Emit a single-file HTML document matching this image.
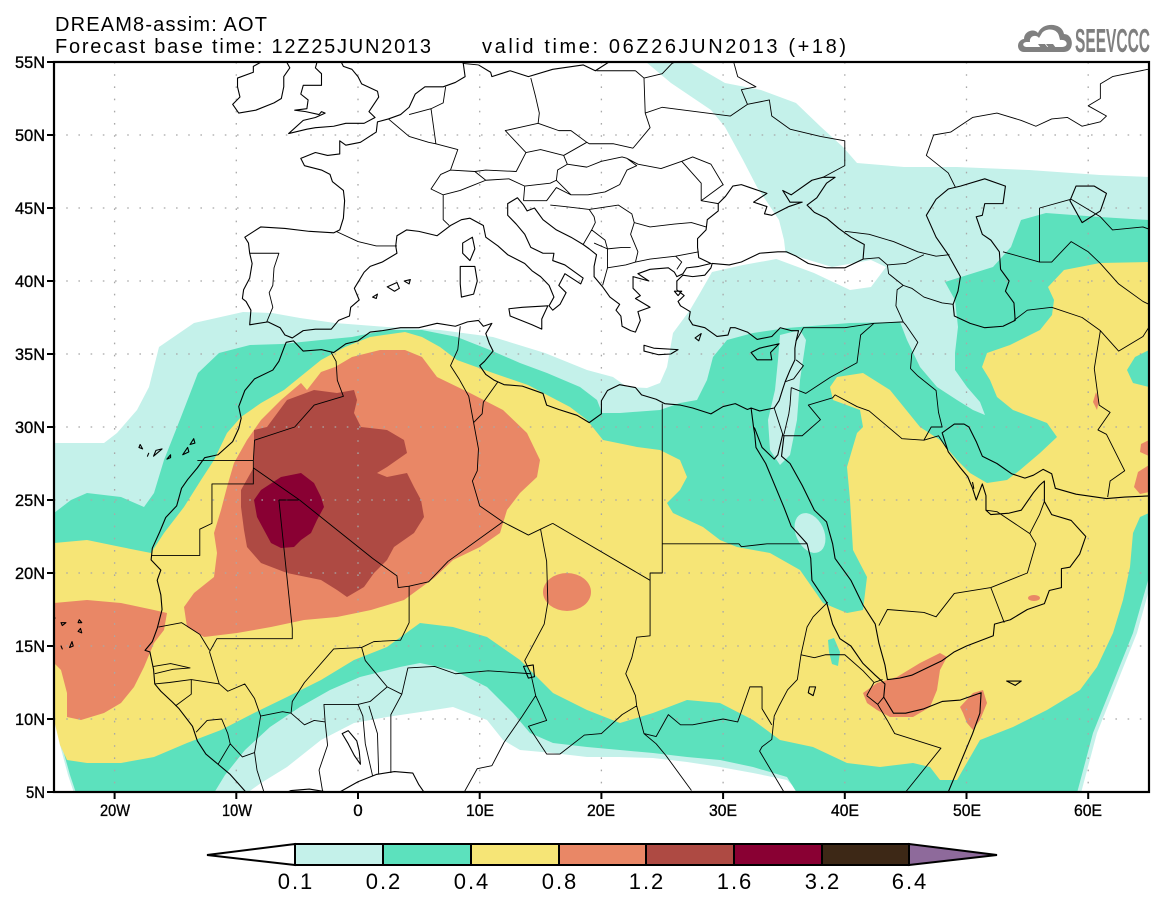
<!DOCTYPE html>
<html><head><meta charset="utf-8"><style>
html,body{margin:0;padding:0;background:#fff;}
svg{display:block;}
text{font-family:"Liberation Sans",sans-serif;fill:#000;}
</style></head><body>
<svg width="1165" height="905" viewBox="0 0 1165 905" xmlns="http://www.w3.org/2000/svg">
<defs><clipPath id="mc"><rect x="54" y="62" width="1095" height="730"/></clipPath></defs>
<rect width="1165" height="905" fill="#fff"/>
<g clip-path="url(#mc)">
<path fill="#c4f1ea" d="M54,443 L61,443 L104,443 L117,433 L137,410 L149,387 L159,347 L194,323 L243,312 L272,313 L300,318 L335,323 L387,327 L440,330 L493,337 L545,353 L587,370 L613,377 L627,387 L647,388 L660,383 L667,367 L673,333 L690,310 L700,293 L712,272 L743,265 L771,260 L786,257 L784,240 L779,220 L757,187 L743,160 L725,127 L711,110 L671,83 L646,62 L689,62 L725,83 L761,90 L796,103 L821,127 L843,147 L857,163 L904,167 L957,167 L1029,170 L1100,175 L1149,177 L1149,590 L1137,633 L1117,683 L1097,733 L1081,793 L800,793 L787,780 L753,773 L720,767 L687,762 L653,758 L620,757 L587,757 L553,753 L520,750 L503,740 L487,720 L453,707 L434,710 L387,717 L354,723 L321,740 L287,767 L261,783 L247,793 L74,793 L68,775 L60,745 L54,715 Z"/>
<path fill="#fff" d="M771,257 L814,273 L850,290 L871,287 L886,267 L871,260 L832,267 L786,253 Z"/>
<path fill="#5ce1bd" d="M54,513 L71,500 L87,493 L121,497 L144,507 L154,493 L164,460 L181,417 L198,373 L219,353 L250,345 L282,344 L321,340 L352,337 L387,330 L422,330 L457,337 L490,350 L520,363 L547,373 L580,387 L597,400 L602,413 L620,413 L660,410 L680,403 L697,400 L707,380 L713,357 L727,340 L753,333 L787,328 L850,323 L900,322 L907,340 L920,367 L937,387 L957,400 L973,410 L985,415 L980,402 L967,387 L955,370 L955,353 L958,327 L955,300 L945,282 L993,267 L1011,247 L1021,220 L1046,213 L1100,217 L1149,220 L1149,577 L1133,633 L1113,683 L1093,733 L1077,793 L797,793 L787,777 L753,767 L720,760 L687,757 L653,753 L620,750 L587,747 L553,743 L530,733 L513,713 L487,687 L453,670 L420,663 L400,667 L360,677 L330,690 L300,707 L270,727 L245,750 L225,775 L214,793 L76,793 L70,775 L63,750 L57,720 L54,715 Z"/>
<path fill="#c4f1ea" d="M780,335 L800,330 L806,340 L800,380 L797,420 L790,455 L780,465 L770,450 L768,420 L775,390 L778,360 Z"/>
<ellipse cx="810" cy="533" rx="14" ry="21" transform="rotate(-25 810 533)" fill="#c4f1ea"/>
<path fill="#f6e576" d="M54,543 L87,540 L121,547 L151,553 L164,533 L184,507 L201,480 L214,460 L227,433 L241,417 L261,403 L284,390 L300,377 L321,360 L345,347 L370,337 L405,332 L422,337 L440,347 L457,360 L493,373 L528,385 L570,407 L587,420 L603,440 L637,447 L660,450 L680,460 L687,477 L680,490 L667,503 L673,513 L703,527 L720,540 L737,547 L770,553 L800,570 L823,603 L847,613 L863,610 L867,577 L853,550 L850,500 L847,467 L857,433 L863,427 L860,410 L833,400 L830,387 L837,377 L863,373 L890,390 L920,427 L940,440 L957,460 L970,473 L987,483 L1007,480 L1020,470 L1040,453 L1057,437 L1047,423 L1013,410 L997,397 L990,380 L982,367 L987,353 L1010,345 L1040,330 L1052,315 L1054,300 L1048,287 L1064,270 L1100,263 L1149,262 L1149,513 L1140,517 L1133,533 L1130,567 L1123,600 L1113,633 L1097,667 L1080,690 L1047,710 L1013,727 L980,740 L957,780 L940,780 L930,767 L913,763 L880,767 L847,763 L813,747 L780,740 L753,720 L720,703 L687,700 L653,713 L620,723 L587,710 L553,693 L537,677 L520,660 L487,637 L453,627 L420,623 L387,647 L354,660 L321,680 L287,697 L254,713 L221,730 L187,743 L154,757 L121,763 L87,763 L67,760 L60,745 L54,720 Z"/>
<path fill="#5ce1bd" d="M1149,350 L1135,357 L1127,370 L1133,383 L1149,387 Z"/>
<path fill="#5ce1bd" d="M828,640 L834,638 L840,652 L838,666 L832,664 L829,652 Z"/>
<path fill="#e98766" d="M307,390 L321,372 L335,367 L352,357 L380,350 L405,350 L422,357 L437,377 L470,393 L503,410 L527,433 L540,460 L537,477 L520,493 L507,510 L500,533 L480,547 L453,560 L434,578 L404,600 L371,610 L337,617 L304,620 L271,627 L237,633 L204,637 L187,627 L184,607 L194,593 L214,577 L217,553 L214,533 L221,510 L227,487 L234,463 L247,440 L261,420 L281,400 L301,383 Z"/>
<ellipse cx="567" cy="592" rx="24" ry="19" fill="#e98766"/>
<path fill="#e98766" d="M54,603 L87,600 L121,603 L154,610 L167,613 L164,630 L154,643 L144,667 L134,687 L121,703 L104,713 L81,720 L67,717 L67,693 L61,670 L54,663 Z"/>
<path fill="#e98766" d="M863,693 L877,683 L897,677 L920,663 L940,653 L947,657 L940,670 L937,690 L930,707 L913,717 L890,717 L877,710 L867,703 Z"/>
<path fill="#e98766" d="M960,707 L973,693 L983,690 L987,703 L980,720 L973,730 L967,723 L963,713 Z"/>
<ellipse cx="1034" cy="598" rx="6" ry="3" fill="#e98766"/>
<path fill="#e98766" d="M1149,440 L1141,444 L1140,452 L1149,456 Z M1149,465 L1138,472 L1134,487 L1140,494 L1149,492 Z M1096,392 L1099,400 L1097,410 L1093,402 Z"/>
<path fill="#ae4a43" d="M254,430 L267,427 L287,400 L314,390 L337,393 L354,390 L357,400 L354,413 L361,427 L387,430 L404,440 L407,453 L387,467 L377,473 L387,477 L407,473 L414,487 L421,500 L424,517 L414,533 L394,547 L387,560 L374,573 L364,587 L347,597 L337,590 L321,580 L287,573 L261,563 L247,547 L244,530 L241,507 L241,490 L254,467 L254,447 Z"/>
<path fill="#890033" d="M254,500 L261,490 L281,477 L301,473 L314,483 L321,497 L324,507 L317,520 L311,533 L301,540 L294,547 L281,548 L271,543 L264,530 L257,517 Z"/>
<g stroke="#a8a8a8" stroke-width="1.3" stroke-dasharray="1.6 10.6" fill="none">
<path d="M114.6,62V792M236.3,62V792M358,62V792M479.7,62V792M601.4,62V792M723.1,62V792M844.8,62V792M966.5,62V792M1088.2,62V792"/>
<path d="M54,719H1149M54,646H1149M54,573H1149M54,500H1149M54,427H1149M54,354H1149M54,281H1149M54,208H1149M54,135H1149"/>
</g>
<g transform="matrix(12.17 0 0 -14.6 358 865)" fill="none" stroke="#000" stroke-linejoin="round">
<path vector-effect="non-scaling-stroke" stroke-width="1.1" d="M9.8 3.5 L9 4.5 L8 4.5 L6 4.3 L5 5.5 L4.5 6.3 L3 6.4 L1.5 6.2 L0 5.7 L-1.5 5 L-2.5 5 L-4 5.2 L-5.5 5.1 L-7.5 4.4 L-9 4.8 L-10.5 6.2 L-11.5 6.9 L-12.5 7.6 L-13.2 8.5 L-13.6 9.5 L-14.7 10.7 L-15.3 11.2 L-16.2 11.9 L-16.7 12.4 L-16.8 13.4 L-17.1 14.6 L-17.5 14.7 L-16.9 15.3 L-16.5 16.2 L-16.1 17.5 L-16.2 18.5 L-16.5 19.5 L-16.2 20.2 L-17 20.9 L-16.9 21.7 L-16.3 22.8 L-15.8 23.8 L-14.9 24.6 L-14.5 25.8 L-14 26.4 L-13.2 27.2 L-12.6 27.9 L-11.5 28.1 L-10.3 29 L-9.8 29.9 L-9.6 30.6 L-9.8 31.4 L-9.3 32.5 L-8.5 33.3 L-7 33.9 L-6.5 34.5 L-6 35.6 L-5.9 35.8 L-5.3 35.9 L-4.5 35.2 L-3 35.3 L-2 35.1 L-1 35.7 L0 35.9 L1 36.5 L2 36.6 L3.5 36.8 L5 36.8 L6.5 37.1 L8 36.9 L9 37.2 L9.9 37.3 L10.3 36.9 L11 37.1 L10.5 36.4 L10.8 35.7 L11.1 35.2 L10.4 34.5 L10 34.2 L10.5 33.6 L11.2 33.2 L12 32.9 L13.5 32.8 L15.2 32.3 L15.5 31.5 L16.5 31.2 L18 30.8 L19 30.3 L20 30.9 L20 31.8 L20.5 32.5 L21.5 32.9 L22.8 32.7 L23.3 32.2 L24.5 31.9 L25.2 31.6 L26.5 31.5 L27.5 31.3 L29 30.9 L30 31.4 L31 31.6 L32 31.2 L32.3 31.3 L33 31.1 L34.2 31.3 L34.6 31.8 L34.9 32.6 L35.1 33.1 L35.5 33.9 L35.9 34.6 L35.9 35.4 L36 35.9 L36.2 36.6 L35.6 36.6 L34.7 36.8 L34 36.2 L32.8 36 L32 36.5 L31 36.8 L30.6 36.8 L30.4 36.3 L29.5 36.2 L28.5 36.8 L27.5 37 L27.2 37.4 L27.3 37.9 L26.5 38.3 L26.3 38.6 L26.8 39 L26.2 39.4 L26.2 40 L26.7 40.4 L27.5 40.3 L28.5 40.4 L29 40.9 L29.1 41.2 L30.5 41.1 L31.5 41.3 L33 41.9 L34.5 42 L35.2 42 L36 41.7 L37 41.2 L38.5 40.9 L40 40.9 L41.5 41.5 L41.6 42.5 L40.5 43 L39.5 43.6 L38.5 44.3 L37.5 44.7 L36.9 45.2 L37.7 45.7 L38.5 46.7 L39.2 47.1 L38.2 47.1 L37.3 46.9 L35.6 45.9 L34.9 46.2 L35.5 45.4 L36.5 45.4 L35.4 45.1 L34 44.5 L33.4 44.6 L33.6 45.1 L32.5 45.4 L33.6 46 L32.2 46.4 L31.5 46.6 L30.8 46.5 L30.2 45.8 L29.6 45.3 L29.6 44.8 L28.7 44.2 L28.6 43.5 L27.9 42.9 L27.9 42.3 L28 41.6 L29 41.2 L28 41 L27 40.9 L26.7 40.5 L26.2 40.3 L26 40.6 L25.5 40.9 L24 40.8 L23 40.5 L23.9 40 L22.6 40.3 L22.6 39.5 L23.2 39 L22.8 38.8 L24 38.2 L23 37.9 L23.2 37.3 L22.8 36.5 L22.4 36.6 L21.7 36.9 L21.6 37.6 L21.2 38 L21.5 38.4 L20.7 38.9 L20.1 39.6 L19.4 40.3 L19.4 41 L19.6 41.8 L19 42.2 L18.5 42.5 L17.5 43 L16.3 43.5 L15.2 44.2 L14.5 45 L13.9 44.8 L13.6 45.2 L13.1 45.7 L12.3 45.3 L12.3 44.5 L13 43.9 L13.7 43.2 L14.2 42.3 L15.2 41.9 L16.1 41.9 L16 41.4 L17 41.1 L18.5 40.2 L18.3 39.8 L17 40.5 L16.5 39.7 L17.1 39.2 L16.6 38.4 L16 38 L15.7 38.3 L16.1 38.9 L15.7 39.7 L15 40.3 L14.3 40.7 L13.7 41.2 L12.3 41.8 L11.5 42.4 L10.5 43 L10.3 43.8 L9.2 44.3 L8.5 44.2 L7.6 43.8 L6.5 43.1 L5 43.4 L4 43.5 L3.2 43.1 L3.1 42.4 L3.2 41.9 L2 41.3 L1 41 L0.5 40.6 L-0.3 39.5 L0.1 38.7 L-0.6 38.2 L-0.7 37.6 L-1.6 37.3 L-2.2 36.7 L-3.5 36.7 L-4.5 36.6 L-5.4 36.1 L-6 36.3 L-6.4 36.8 L-7.4 37.2 L-8.9 37 L-8.8 38 L-9.2 38.6 L-9.5 38.8 L-9.4 39.4 L-8.9 40.2 L-8.7 41.2 L-8.9 41.9 L-9 42.6 L-9.3 43 L-8 43.7 L-6 43.6 L-4 43.4 L-2 43.3 L-1.5 43.5 L-1.2 44.3 L-1.1 45.5 L-1.2 46.2 L-2.1 46.8 L-2.3 47.3 L-3 47.6 L-4.4 47.9 L-4.7 48.4 L-3.5 48.8 L-2.5 48.6 L-1.5 48.7 L-1.5 49.6 L-1 49.3 L0.2 49.5 L1.5 50.2 L1.6 50.9 L2.5 51.1 L3.5 51.4 L4.2 51.9 L4.7 52.8 L5.5 53.3 L7 53.3 L8 53.6 L8.8 54 L8.6 55.2
M9.9 54.8 L10.9 54.3 L11 54 L12.5 54.4 L14 54 L16 54.5 L18.5 54.8 L19.5 54.4 L21 55.2
M32.3 31.3 L32.5 30 L32.6 29.5 L32.7 28.6 L33.5 27.5 L34 26.5 L35 24.5 L35.6 23.2 L36.9 22 L37.2 21 L37.3 19.5 L38.5 18 L39 16.5 L39.6 15.5 L40.5 15 L41.5 13.8 L42.5 13 L43.3 12.4 L43.2 11.5 L44 10.4 L45 10.4 L46.5 10.7 L48 11.2 L49.5 11.3 L51.2 11.8 L51.1 10.4 L50.5 9 L49.5 7 L48.5 5 L47.5 3.5
M32.5 30 L32.6 29.9 L33.2 28.6 L34.2 27.8 L34.5 28.1 L34.9 29.5 L35 29.4 L34.8 28 L35.5 27.5 L36.5 26 L37.5 24.3 L38.5 23.5 L39 22 L39.2 21 L40.5 19.5 L41.5 17.8 L42.5 16.5 L42.8 15.2 L43.3 13.7 L43.5 12.7 L44.5 12.8 L45.5 13 L48 14 L49 14.6 L50 15 L52.2 15.7 L52.3 16.5 L53.6 16.8 L55 17.5 L56.4 17.9 L56.8 18.8 L57.8 19 L57.8 20.3 L58.5 20.4 L59.3 21.3 L59.8 22.5 L58.6 23.6 L57 24 L56.4 24.9 L56.4 26.3 L56 26 L55.5 25.5 L54.5 24.3 L53.5 24.1 L52 24 L51.6 24.3 L51.6 25.3 L51.3 26.1 L50.8 25 L50.5 25.8 L50.1 26.6 L49.5 27.2 L48.5 28.3 L48 29.6 L48.5 29.9 L49 30.2 L49.8 30.2 L50.2 30 L50.8 29 L51.3 28 L52.5 27.5 L53.7 26.8 L54.8 26.5 L55.5 26.7 L56.3 27.1 L57 26.8 L57.3 25.8 L59 25.4 L61.5 25.1 L63 25.2 L65.5 25.3
M46.7 44.5 L47.5 43 L48.5 41.8 L49.5 40.3 L49.3 39.3 L48.9 38.4 L49 37.6 L50.3 37.1 L51.5 36.8 L53 36.9 L54 37.3 L53.9 38.5 L53.2 39.3 L53.5 40 L52.8 40.8 L52.7 42 L52 42.8 L51.3 43.2 L50.8 44.4 L51.3 44.5 L51.5 45.3 L53 45.3 L53.2 46.5 L51.5 47 L49.5 46.5 L48.5 46.3 L47.5 45.6 Z
M58.5 45.5 L59 46.5 L60.5 46.5 L61.5 46 L61 44.8 L59.5 44 Z
M-3.3 55.2 L-3.5 54.6 L-3 54.2 L-3 53.8 L-3 53.4 L-4.5 53.4 L-4.7 52.8 L-4.1 52.4 L-4.2 51.8 L-5.2 51.7 L-4.3 51.6 L-3.2 51.4 L-3 51.6 L-2.7 51.5 L-3.5 51.2 L-4.5 51 L-5.7 50.1 L-4.2 50.4 L-3.5 50.5 L-2 50.6 L-1 50.8 L0.5 50.8 L1.4 51.2 L0.9 51.6 L1.7 52.6 L1.6 53 L0.3 53.5 L0 54 L-0.5 54.5 L-1.2 54.7 L-1.5 55.2
M-7.3 55.3 L-6 55.2 L-5.6 54.6 L-6.1 54 L-6.1 53.3 L-6.3 52.5 L-6.9 52.2 L-8.4 51.7 L-9.8 51.5 L-10.3 52.1 L-9.7 52.6 L-9.9 53.3 L-9.9 53.9 L-8.6 54.3 L-8.6 54.7 Z
M8.4 41 L9.6 41 L9.8 40 L9.5 39.1 L8.5 38.9 L8.4 39.8 Z M9.4 43 L9.6 42.2 L9.2 41.4 L8.6 41.9 L8.6 42.6 Z M12.4 38.1 L13.5 38.2 L15.6 38.3 L15.1 37.4 L15.1 36.7 L14.3 37 L12.5 37.6 Z M23.5 35.6 L24.3 35.4 L26.3 35.3 L25.7 35 L24.7 34.95 L23.5 35.2 Z M32.3 35.1 L33 35.4 L34.6 35.7 L33.9 35.1 L34 34.6 L32.8 34.6 Z M2.4 39.6 L3.2 39.9 L3.4 39.5 L3 39.3 Z M3.8 40 L4.3 40.1 L4.2 39.8 Z M1.2 38.9 L1.6 39.1 L1.5 38.8 Z M27.7 36.1 L28.2 36.4 L28 35.9 Z M26 39.3 L26.6 39.3 L26.3 39 Z
M-13.5 29.2 L-13.8 28.8 L-13.4 28.9 Z M-14 28.6 L-14.4 28.1 L-13.9 28.3 Z M-15.4 28.1 L-15.7 27.8 L-15.4 27.9 Z M-16.6 28.4 L-16.1 28.5 L-16.8 28 Z M-17.9 28.8 L-17.7 28.5 L-18 28.6 Z M-17.2 28.2 L-17.3 28 Z
M-24.4 16.6 L-24 16.6 L-24.3 16.4 Z M-22.9 16.8 L-22.7 16.6 L-23 16.6 Z M-22.8 16.2 L-22.7 15.9 L-23 16 Z M-23.5 15.3 L-23.7 14.9 L-23.4 15 Z M-24.4 15 L-24.3 14.8 Z M-25 17.1 L-25.3 16.9 L-24.9 16.9 Z
M53.3 12.6 L54.5 12.6 L54 12.3 Z M50.5 26.2 L50.6 25.8 Z
M-0.1 8.5 L0.1 7.8 L0.2 6.9 L-0.3 7.5 L-0.8 8.3 L-1.3 9 L-0.8 9.2 Z M37.1 12.2 L37.6 12.2 L37.4 11.6 L37 11.8 Z M13.6 13.6 L14.4 13.7 L14.5 12.9 L14 12.8 Z"/>
<path vector-effect="non-scaling-stroke" stroke-width="0.9" d="M-2.2 35.1 L-1.8 34.5 L-1.7 33.2 L-1.2 32.1 L-3.6 31.5 L-5.2 30 L-8.5 29.1 L-8.6 27.7
M-13.2 27.7 L-8.6 27.7 L-8.6 26.1 L-12 26.1 L-12 23.4 L-13 23 L-13 21.2 L-17 21.2
M-8.6 27.2 L-4.8 25 L1.2 21 L3.2 19.8 L3.3 19 L4.2 19.1 L5.8 19.4 L7.4 20.8 L11.9 23.5
M-6.5 25 L-4.8 25 M-6.5 25 L-5.4 16.2 L-5.4 15.5 L-9.1 15.5 L-11.6 15.5 L-12.2 14.6 M-16.4 16.3 L-14.5 16.6 L-13 15.8 L-12.2 14.7
M8.4 36.9 L8.2 35.3 L7.6 34.2 L8.3 33.3 L9.1 32.1 L9.5 30.3 L10.2 30.9 L10.3 31.7 L11.5 33.1
M9.5 30.3 L9.9 28.5 L9.8 27 L9.4 26.3 L10 24.6 L11.9 23.5 L14 22.6 L15 23 L16 23.4
M16 23.4 L24 19.5 L24 20 L25 20 L25 22 L25 31.6 M25 22 L31.3 22 L31.5 21.8 L33.6 22 L36.9 22
M15 23 L15.5 20.8 L15.6 18 L15.3 16.5 L13.7 14 L14.2 13.1
M24 19.5 L24 15.7 L22.9 15.6 L22.5 14.2 L22 13.1 L22.8 11.6 L22.9 10.9 L23.5 9
M14.2 13.1 L14.6 11.6 L15.1 10.7 L15.5 9.9 L14 9.5 L15.5 7.6 L16.6 7.6 L18.6 8.9 L20 9 L21.7 10.3 L22.9 10.9
M14.2 13.1 L12.5 13.2 L10.7 13.3 L8 13.1 L6.3 13.6 L4.1 13.5 L3.6 11.7 L2.7 10.3 L2.7 6.3 M14.6 11.6 L13.5 10.2 L12 8.4 L11 6.8 L9.8 6.6 L8.6 4.8
M4.2 19.1 L4.2 16.6 L3.5 15.4 L1.3 15.3 L0.3 14.9 L0.6 14 L2 12.6 L2.4 12.2 L3.6 11.7
M0.3 14.9 L-2 14.8 L-4.4 12.5 L-5.4 11.2 L-5.5 10.4
M2.4 12.2 L1 11.2 L0 11 L-2.8 11 L-2.7 9.8 L-3.6 9.9 L-4.4 9.6 L-5.5 10.4 L-6.2 10.5 L-8 10.2
M-12.2 14.6 L-11.4 12.4 L-10.7 11.9 L-9.3 12.4 L-8.5 11.4 L-8 10.2
M-16.7 12.4 L-15.5 12.5 L-13.7 12.7 L-11.4 12.4 M-16.8 13.6 L-15.4 13.8 L-13.8 13.5 L-15.2 13.4 L-16.7 13.1 M-13.7 12.7 L-13.7 11.7 L-15 10.9 M-13.3 9.1 L-12.4 9.9 L-11.2 10 L-10.7 9 L-10.5 8.3 L-11.5 6.9 M-10.5 8.3 L-9.5 7.4 L-8.5 7.7 L-8 10.2 M-8.5 7.7 L-8.3 6.5 L-7.5 4.4
M-2.7 9.8 L-2.5 8.2 L-3.2 6.5 L-2.9 5 M0 11 L0.4 10.2 L0.6 8.3 L1.2 6.1 M0.9 10.9 L1.6 9 L1.7 6.2
M38.6 18 L37.4 17 L36.9 16.3 L36.4 14.4 L36.1 12.7 L35.3 12 L34.6 10.9 L34.2 10.2 L34 8.6 L33.2 8.1 L33 7.8 L35 5 M36.4 14.4 L37.5 14.2 L38.4 14.4 L40 14.4 L41.5 13.3 L42.4 12.5 L43.1 12.7 M41.8 11.6 L42.4 12.5 M41.8 11.6 L42.7 11 L43.2 11.5 M42.7 11 L43.5 9.9 L44.1 9 L47.9 8 L45 5
M23.5 9 L24.5 8.8 L25.5 10.3 L26.5 9.6 L27.5 9.6 L30 10 L31.2 9.8 L32.2 12.2 L33.2 12.2 L33.2 10.7 L34 9.6 M23.5 9 L24.5 8.3 L25.3 7.5 L27.4 5.1
M34.2 31.3 L34.9 29.5 M35 29.5 L35.4 30.9 L35.5 31.5 L35.6 32.7 M35.1 33.1 L35.8 33.3 L36.6 34.2 L36 34.6 M35.6 32.7 L36.8 32.3 L38.8 33.4 L41 34.4 L41.3 36.3 L42.4 37.1 M36 35.9 L36.6 36.8 L38 36.8 L40 36.8 L42.4 37.1 L44.8 37.2 L44.2 38.3 L44.3 39.4 L44.8 39.7
M35 29.4 L36.5 29.4 L38 30.5 L37 31.5 L39 32 L39.2 32.2 L41 31.4 L42 31.1 L44.7 29.2 L46.5 29.1 L47.7 29.4 L48.4 28.5 M46.5 29.1 L47.1 30 L48 30 L47.7 31 L47.5 32.5 L46 33.5 L45.4 34 L45.5 35 L46 35.8 L45 37 L44.8 37.2
M42.8 16.4 L43.5 17.5 L46.5 17.3 L47.5 17 L49 18.6 L52 19 L55 20 L55.7 22 L55.2 22.7 L52.5 24.2 L51.6 24.3 M52 19 L53.1 16.6 M55.2 22.7 L56 24 L56.4 24.9
M41.5 41.5 L42.8 41.6 L43.5 41.1 L43.6 40.5 L44.8 39.7 M43.5 41.1 L45 41.2 L46.5 41.8 M40 43.4 L42 43.2 L44 42.7 L46 42 L47.5 41.7 L48.6 41.8 M44.8 39.7 L45.5 39.5 L46.5 38.9 L48 38.5 L48.9 38.4
M53.9 37.3 L55 38 L57 38.2 L59.5 37.5 L61 36.6 L60.5 34 L60.9 31.5 L61.8 31 L60.8 29.8 L61.5 29.5 L63 27 L61.8 26.3 L61.6 25.2 M61 36.6 L62.5 35.2 L64.5 36.2 L65.5 37.5
M53 42 L56 41.3 L57 41.3 L58.6 42.7 L60 42 L61 41.2 L62.5 39.8 L64.5 38.6 L65.5 38.2 M56 45 L56 41.3 M56 45 L58.6 45.6 L61 44.4 L62 43.5 L64.5 43.7 L65.5 43.4
M49.1 46.4 L48.5 47.4 L46.7 48.6 L47.3 50 L48.7 50.2 L50.5 51.2 L52.5 51.5 L54.5 51 L55.7 50.6 L57 51.1 L58.3 51.2 L59.5 50.6 L61 50.9 L61.5 51.3 L60 52 L61 52.5 L61 53.5 L62 54 L65.5 54.6
M38.2 47.1 L40 47.9 L40 49.6 L38 49.9 L35.5 50.4 L34 51.3 L33.8 52.4 L32 52.1 L30.6 51.3 L25 51.9 L23.6 51.5 M32 52.1 L31.5 53.1 L32.7 53.3 L31.2 54 L30.8 55.2 M23.6 51.5 L23.5 53.9 L25 54.2 L25.8 54.9 L26.6 55.2 M22.8 54.4 L19.6 54.4 M22.8 54.4 L23.5 53.9
M22.1 48.4 L23 48 L24.9 47.7 L26.6 48.2 L27.5 48.5 L29 48 L30 46.6 L28.2 45.5 L29.6 45.3 M26.6 48.2 L28.2 46.7 L28.2 45.5
M22.6 49.1 L21 49.4 L19 49.4 L18.8 49.5 L17.5 50.3 L16.5 50.3 L14.8 50.8 L14.9 51.5 L14.6 52.6 L14.2 53.9 M22.6 49.1 L24 50.5 L23.6 51.5
M14.8 50.8 L12.1 50.3 L13.8 48.8 L13 47.5 L10.5 47.6 L9.6 47.5 L7.6 47.6 M13.8 48.8 L15 49 L16.9 48.6 L18.8 49.5 M16.9 48.6 L17.2 48 L16.4 47.6 L16.3 46.9 L15.8 46.7 L13.7 46.5 L12.4 47 L10.5 46.9 L9.6 47.5 M17.2 48 L18.8 47.8 L20 48.2 L21.7 48.5 L22.1 48.4
M16.3 46.9 L17.5 45.9 L18.9 45.9 L20.3 46.1 L21.5 46.6 L22.1 47.6 L22.9 47.9 L22.1 48.4
M7.6 47.6 L6.8 47.3 L6 46.3 L7 45.9 L8.4 46.2 L9.3 46.5 L10.5 46.9 M7 45.9 L7 44.2 L7.5 43.8
M7.6 47.6 L8.2 49 L6.4 49.4 L5.8 49.5 L4.2 49.9 L2.5 51.1 M6.4 49.4 L6.2 50.6 L6 51.8 L7 52.2 L7.2 53.3 M4.2 51.4 L6 51.8 M8.6 54.9 L9.9 54.8
M-1.8 43.4 L0 42.7 L1.5 42.4 L3.2 42.4 M-8.9 41.9 L-6.5 41.9 L-6.9 40.9 L-7 39.7 L-7.3 39.2 L-7 38.2 L-7.5 37.2
M13.6 45.5 L13.7 46.5 M13.6 45.5 L15.5 45.5 L16.3 46.4 L17.5 45.9 M15.8 45.2 L17 45.1 L19 44.9 L19.4 44.4 L19.5 44 L19.2 43.5 L18.5 42.5 M19 44.9 L21.4 45.2 L22.5 44.6 L22.7 44 L24 43.7 L26 43.9 L27.4 44 L28.6 43.7 M22.7 44 L22.4 43.2 L23 42 L22.8 41.3 L24 41.5 L26.1 41.7 L26.6 41.3 L26.2 40.8 M20.5 40.9 L22 41.1 L22.8 41.3 M19.4 42.6 L20.5 42.2 L20.5 40.9 L20.1 39.7 M19.2 43.5 L20.3 42.8 L20.5 42.2 L21.7 42.3 L22.4 42.3 M26.1 41.7 L28 42"/>
</g>
</g>
<rect x="54" y="62" width="1095" height="730" fill="none" stroke="#000" stroke-width="2.2"/>
<path stroke="#000" stroke-width="2" d="M47,62H54M47,135H54M47,208H54M47,281H54M47,354H54M47,427H54M47,500H54M47,573H54M47,646H54M47,719H54M47,792H54M114.6,792V799M236.3,792V799M358,792V799M479.7,792V799M601.4,792V799M723.1,792V799M844.8,792V799M966.5,792V799M1088.2,792V799"/>
<g font-size="17" text-anchor="end" style="stroke:#000;stroke-width:0.35">
<text x="45" y="68" textLength="30" lengthAdjust="spacingAndGlyphs">55N</text>
<text x="45" y="141" textLength="30" lengthAdjust="spacingAndGlyphs">50N</text>
<text x="45" y="214" textLength="30" lengthAdjust="spacingAndGlyphs">45N</text>
<text x="45" y="287" textLength="30" lengthAdjust="spacingAndGlyphs">40N</text>
<text x="45" y="360" textLength="30" lengthAdjust="spacingAndGlyphs">35N</text>
<text x="45" y="433" textLength="30" lengthAdjust="spacingAndGlyphs">30N</text>
<text x="45" y="506" textLength="30" lengthAdjust="spacingAndGlyphs">25N</text>
<text x="45" y="579" textLength="30" lengthAdjust="spacingAndGlyphs">20N</text>
<text x="45" y="652" textLength="30" lengthAdjust="spacingAndGlyphs">15N</text>
<text x="45" y="725" textLength="30" lengthAdjust="spacingAndGlyphs">10N</text>
<text x="45" y="798" textLength="19" lengthAdjust="spacingAndGlyphs">5N</text>
</g>
<g font-size="17" text-anchor="middle" style="stroke:#000;stroke-width:0.35">
<text x="115" y="816" textLength="30" lengthAdjust="spacingAndGlyphs">20W</text>
<text x="237" y="816" textLength="30" lengthAdjust="spacingAndGlyphs">10W</text>
<text x="358" y="816">0</text>
<text x="480" y="816" textLength="28" lengthAdjust="spacingAndGlyphs">10E</text>
<text x="601" y="816" textLength="28" lengthAdjust="spacingAndGlyphs">20E</text>
<text x="723" y="816" textLength="28" lengthAdjust="spacingAndGlyphs">30E</text>
<text x="845" y="816" textLength="28" lengthAdjust="spacingAndGlyphs">40E</text>
<text x="967" y="816" textLength="28" lengthAdjust="spacingAndGlyphs">50E</text>
<text x="1088" y="816" textLength="28" lengthAdjust="spacingAndGlyphs">60E</text>
</g>
<text x="55" y="31" font-size="20" textLength="212" lengthAdjust="spacing">DREAM8-assim: AOT</text>
<text x="55" y="53" font-size="20" textLength="376" lengthAdjust="spacing">Forecast base time: 12Z25JUN2013</text>
<text x="482" y="53" font-size="20" textLength="364" lengthAdjust="spacing">valid time: 06Z26JUN2013 (+18)</text>
<g fill="#808080">
<path d="M1024,52 C1016,52 1016,40 1024,39 C1024,31 1034,28 1038,33 C1042,22 1062,22 1064,34 C1074,34 1075,52 1064,52 Z"/>
<path fill="#fff" d="M1027,47 C1022,47 1022,42 1027,42 L1030,42 C1029,36 1036,34 1039,38 L1042,33 C1046,28 1057,28 1059,36 L1060,40 C1068,39 1069,47 1062,47 Z"/>
<path fill="#808080" d="M1038,44 L1045,44 L1048,48 L1045,52 L1038,52 L1041,48 Z M1046,44 L1053,44 L1056,48 L1053,52 L1046,52 L1049,48 Z"/>
<text x="1075" y="52" font-size="33" font-weight="bold" textLength="75" lengthAdjust="spacingAndGlyphs" style="fill:#808080">SEEVCCC</text>
</g>
<g stroke="#000" stroke-width="2">
<polygon points="207,855 295,844 295,865" fill="#fff"/>
<rect x="295" y="844" width="88" height="21" fill="#c4f1ea"/>
<rect x="383" y="844" width="88" height="21" fill="#5ce1bd"/>
<rect x="471" y="844" width="88" height="21" fill="#f6e576"/>
<rect x="559" y="844" width="87" height="21" fill="#e98766"/>
<rect x="646" y="844" width="88" height="21" fill="#ae4a43"/>
<rect x="734" y="844" width="88" height="21" fill="#890033"/>
<rect x="822" y="844" width="87" height="21" fill="#3d2816"/>
<polygon points="909,844 909,865 997,855" fill="#8e6a9b"/>
</g>
<g font-size="22" text-anchor="middle" letter-spacing="2">
<text x="296" y="889">0.1</text>
<text x="384" y="889">0.2</text>
<text x="472" y="889">0.4</text>
<text x="560" y="889">0.8</text>
<text x="647" y="889">1.2</text>
<text x="735" y="889">1.6</text>
<text x="823" y="889">3.2</text>
<text x="910" y="889">6.4</text>
</g>
</svg>
</body></html>
